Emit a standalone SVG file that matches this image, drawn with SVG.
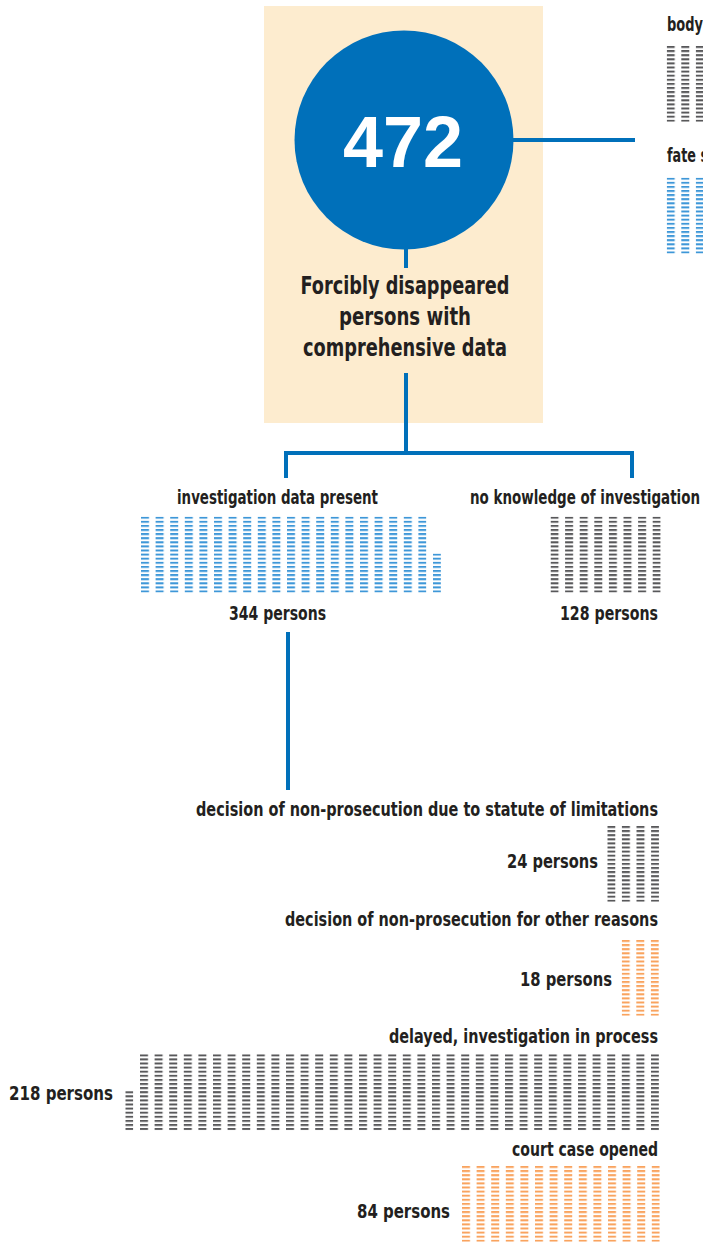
<svg xmlns="http://www.w3.org/2000/svg" width="703" height="1243" viewBox="0 0 703 1243">
<style>
.t{font-family:"DejaVu Sans Condensed","Liberation Sans",sans-serif;font-weight:bold;fill:#231F20;font-size:19px}
.h{font-size:24px}
.big{font-family:"Liberation Sans",sans-serif;font-weight:bold;fill:#ffffff;font-size:72px}
.c{fill:none;stroke:#0070BA;stroke-width:4}
</style>
<defs>
<pattern id="pg" x="0" y="0" width="14.6" height="4.1" patternUnits="userSpaceOnUse"><rect x="0" y="0" width="8" height="2" fill="#58585A"/></pattern>
<pattern id="pb" x="0" y="0" width="14.6" height="4.1" patternUnits="userSpaceOnUse"><rect x="0" y="0" width="8" height="2" fill="#3E97D8"/></pattern>
<pattern id="po" x="0" y="0" width="14.6" height="4.1" patternUnits="userSpaceOnUse"><rect x="0" y="0" width="8" height="2" fill="#F9A35E"/></pattern>
</defs>
<rect width="703" height="1243" fill="#ffffff"/>
<rect id="panel" x="264" y="6" width="279" height="417" fill="#FDECCF"/>
<g id="connectors">
<line class="c" x1="510" y1="140" x2="635" y2="140"/>
<line class="c" x1="406" y1="245" x2="406" y2="268"/>
<path class="c" d="M406,373 V453"/>
<path class="c" d="M286,478 V453 H632 V478"/>
<line class="c" x1="288" y1="632" x2="288" y2="790"/>
</g>
<g id="total">
<circle cx="404" cy="140" r="109.5" fill="#0070BA"/>
<text class="big" x="343" y="167" textLength="120" lengthAdjust="spacingAndGlyphs">472</text>
<text class="t h" x="405" y="294" text-anchor="middle" textLength="209" lengthAdjust="spacingAndGlyphs">Forcibly disappeared</text>
<text class="t h" x="405" y="325" text-anchor="middle" textLength="132" lengthAdjust="spacingAndGlyphs">persons with</text>
<text class="t h" x="405" y="356" text-anchor="middle" textLength="204" lengthAdjust="spacingAndGlyphs">comprehensive data</text>
</g>
<g id="body">
<text class="t" x="667" y="31" textLength="36" lengthAdjust="spacingAndGlyphs">body</text>
<g transform="translate(666.7,46)"><rect width="37.2" height="75.8" fill="url(#pg)"/></g>
</g>
<g id="fate">
<text class="t" x="667" y="162" textLength="41" lengthAdjust="spacingAndGlyphs">fate s</text>
<g transform="translate(666.7,177.7)"><rect width="37.2" height="75.8" fill="url(#pb)"/></g>
</g>
<g id="investigation">
<text class="t" x="277.5" y="504" text-anchor="middle" textLength="201" lengthAdjust="spacingAndGlyphs">investigation data present</text>
<g transform="translate(141,516.7)"><rect width="285.4" height="75.8" fill="url(#pb)"/></g>
<g transform="translate(433,553.6)"><rect width="8" height="38.9" fill="url(#pb)"/></g>
<text class="t" x="277.5" y="620" text-anchor="middle" textLength="97" lengthAdjust="spacingAndGlyphs">344 persons</text>
</g>
<g id="noknowledge">
<text class="t" x="585" y="504" text-anchor="middle" textLength="230" lengthAdjust="spacingAndGlyphs">no knowledge of investigation</text>
<g transform="translate(550.5,516.7)"><rect width="110.2" height="75.8" fill="url(#pg)"/></g>
<text class="t" x="609" y="620" text-anchor="middle" textLength="98" lengthAdjust="spacingAndGlyphs">128 persons</text>
</g>
<g id="statute">
<text class="t" x="658" y="816" text-anchor="end" textLength="462" lengthAdjust="spacingAndGlyphs">decision of non-prosecution due to statute of limitations</text>
<g transform="translate(607.3,826)"><rect width="51.8" height="75.8" fill="url(#pg)"/></g>
<text class="t" x="598" y="868" text-anchor="end" textLength="91" lengthAdjust="spacingAndGlyphs">24 persons</text>
</g>
<g id="otherreasons">
<text class="t" x="658" y="926" text-anchor="end" textLength="373" lengthAdjust="spacingAndGlyphs">decision of non-prosecution for other reasons</text>
<g transform="translate(621.7,940)"><rect width="37.2" height="75.8" fill="url(#po)"/></g>
<text class="t" x="612" y="986" text-anchor="end" textLength="92" lengthAdjust="spacingAndGlyphs">18 persons</text>
</g>
<g id="delayed">
<text class="t" x="658" y="1043" text-anchor="end" textLength="269" lengthAdjust="spacingAndGlyphs">delayed, investigation in process</text>
<g transform="translate(140,1054.3)"><rect width="519" height="75.8" fill="url(#pg)"/></g>
<g transform="translate(125.3,1091.2)"><rect width="8" height="38.9" fill="url(#pg)"/></g>
<text class="t" x="9" y="1100" textLength="104" lengthAdjust="spacingAndGlyphs">218 persons</text>
</g>
<g id="court">
<text class="t" x="658" y="1156" text-anchor="end" textLength="146" lengthAdjust="spacingAndGlyphs">court case opened</text>
<g transform="translate(462,1166)"><rect width="197.8" height="75.8" fill="url(#po)"/></g>
<text class="t" x="450" y="1218" text-anchor="end" textLength="93" lengthAdjust="spacingAndGlyphs">84 persons</text>
</g>
</svg>
